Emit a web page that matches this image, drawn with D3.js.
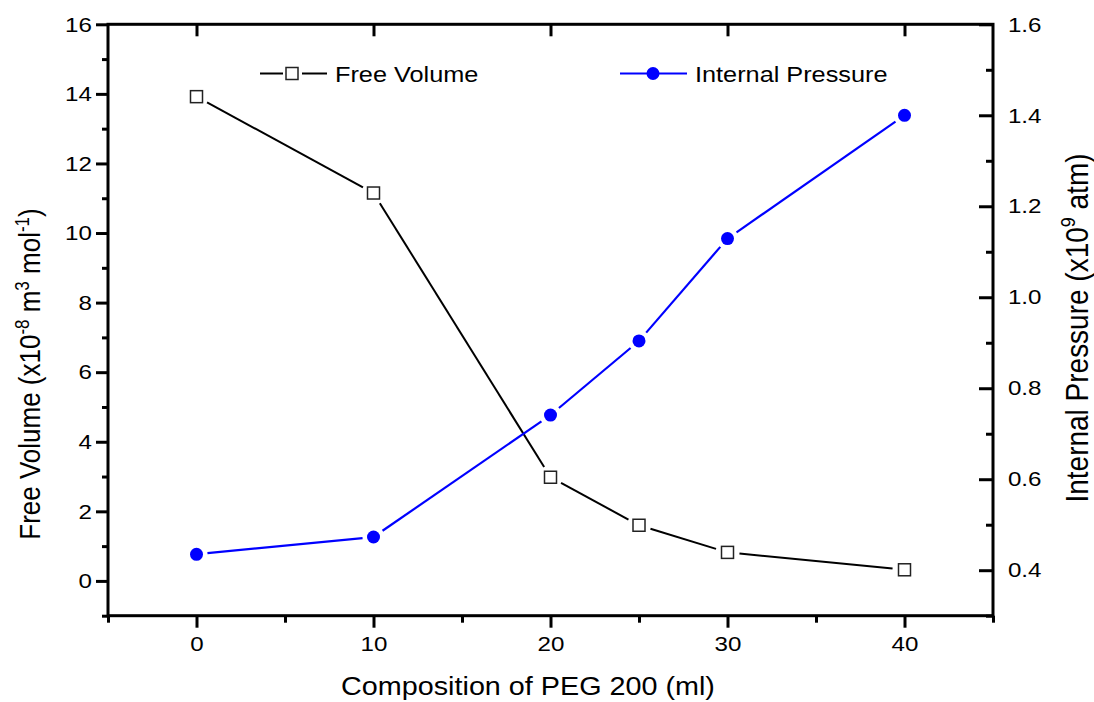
<!DOCTYPE html>
<html>
<head>
<meta charset="utf-8">
<script src="https://d3js.org/d3.v7.min.js"></script>
<style>
  body { margin: 0; background: #fff; }
  svg { display: block; font-family: "Liberation Sans", Arial, sans-serif; }
</style>
</head>
<body>
<div id="chart"></div>
<script>
// data
var composition = [0, 10, 20, 25, 30, 40];
var freeVolume = [13.92, 11.15, 2.98, 1.60, 0.82, 0.32];
var internalPressure = [0.435, 0.473, 0.741, 0.904, 1.129, 1.40];

var xTicks = [0, 10, 20, 30, 40];
var xMinor = [-5, 5, 15, 25, 35, 45];
var yLeftTicks = [0, 2, 4, 6, 8, 10, 12, 14, 16];
var yLeftMinor = [-1, 1, 3, 5, 7, 9, 11, 13, 15];
var yRightTicks = [0.4, 0.6, 0.8, 1.0, 1.2, 1.4, 1.6];
var yRightMinor = [0.3, 0.5, 0.7, 0.9, 1.1, 1.3, 1.5];

(function () {
  var width = 1094, height = 702;
  var plotLeft = 108, plotRight = 993, plotTop = 24.3, plotBottom = 615.7;
  var stretch = 1.15; // text in the source is a bit wider than normal

  var svg = d3.select("#chart").append("svg")
    .attr("width", width).attr("height", height);

  var x = d3.scaleLinear().domain([-5, 45]).range([plotLeft, plotRight]);
  var yL = d3.scaleLinear().domain([-1, 16]).range([plotBottom, plotTop]);
  var yR = d3.scaleLinear().domain([0.3, 1.6]).range([plotBottom, plotTop]);

  function styleAxis(g) {
    g.attr("font-family", null).attr("font-size", null);
    g.select(".domain").remove();
    g.selectAll("line").attr("stroke", "#000").style("stroke-width", "3px");
    g.selectAll("text")
      .attr("fill", "#000")
      .style("font-size", "21px")
      .attr("transform", "scale(" + stretch + ",1)");
  }

  // minor ticks
  svg.append("g").attr("transform", "translate(0," + plotBottom + ")")
    .call(d3.axisBottom(x).tickValues(xMinor).tickSize(7).tickFormat(""))
    .call(styleAxis);
  svg.append("g").attr("transform", "translate(" + plotLeft + ",0)")
    .call(d3.axisLeft(yL).tickValues(yLeftMinor).tickSize(6).tickFormat(""))
    .call(styleAxis);
  svg.append("g").attr("transform", "translate(" + plotRight + ",0)")
    .call(d3.axisRight(yR).tickValues(yRightMinor).tickSize(-7).tickFormat(""))
    .call(styleAxis);

  // major ticks
  svg.append("g").attr("transform", "translate(0," + plotBottom + ")")
    .call(d3.axisBottom(x).tickValues(xTicks).tickSize(12).tickPadding(8).tickFormat(d3.format("d")))
    .call(styleAxis);
  svg.append("g").attr("transform", "translate(0," + plotTop + ")")
    .call(d3.axisTop(x).tickValues(xTicks).tickSize(-12).tickFormat(""))
    .call(styleAxis);
  svg.append("g").attr("transform", "translate(" + plotLeft + ",0)")
    .call(d3.axisLeft(yL).tickValues(yLeftTicks).tickSize(12).tickPadding(2).tickFormat(d3.format("d")))
    .call(styleAxis);
  svg.append("g").attr("transform", "translate(" + plotRight + ",0)")
    .call(d3.axisRight(yR).tickValues(yRightTicks).tickSize(-14).tickPadding(13).tickFormat(d3.format(".1f")))
    .call(styleAxis);

  // frame
  svg.append("rect")
    .attr("x", plotLeft).attr("y", plotTop)
    .attr("width", plotRight - plotLeft).attr("height", plotBottom - plotTop)
    .attr("fill", "none").attr("stroke", "#000").attr("stroke-width", 3);

  // lines broken around the markers
  function gappedSegments(pts, gap) {
    var segs = [];
    for (var i = 0; i < pts.length - 1; i++) {
      var a = pts[i], b = pts[i + 1];
      var dx = b[0] - a[0], dy = b[1] - a[1];
      var len = Math.sqrt(dx * dx + dy * dy);
      var ux = dx / len, uy = dy / len;
      segs.push([a[0] + ux * gap, a[1] + uy * gap, b[0] - ux * gap, b[1] - uy * gap]);
    }
    return segs;
  }

  var fvPts = composition.map(function (c, i) { return [x(c), yL(freeVolume[i])]; });
  var ipPts = composition.map(function (c, i) { return [x(c), yR(internalPressure[i])]; });

  svg.append("g").selectAll("line")
    .data(gappedSegments(fvPts, 12))
    .enter().append("line")
    .attr("x1", function (d) { return d[0]; }).attr("y1", function (d) { return d[1]; })
    .attr("x2", function (d) { return d[2]; }).attr("y2", function (d) { return d[3]; })
    .attr("stroke", "#000").attr("stroke-width", 2);

  svg.append("g").selectAll("line")
    .data(gappedSegments(ipPts, 11))
    .enter().append("line")
    .attr("x1", function (d) { return d[0]; }).attr("y1", function (d) { return d[1]; })
    .attr("x2", function (d) { return d[2]; }).attr("y2", function (d) { return d[3]; })
    .attr("stroke", "#0000ff").attr("stroke-width", 2.2);

  svg.append("g").selectAll("rect")
    .data(fvPts)
    .enter().append("rect")
    .attr("x", function (d) { return d[0] - 6; })
    .attr("y", function (d) { return d[1] - 6; })
    .attr("width", 12).attr("height", 12)
    .attr("fill", "#fff").attr("stroke", "#222").attr("stroke-width", 1.5);

  svg.append("g").selectAll("circle")
    .data(ipPts)
    .enter().append("circle")
    .attr("cx", function (d) { return d[0]; })
    .attr("cy", function (d) { return d[1]; })
    .attr("r", 6.5)
    .attr("fill", "#0000ff");

  // legend
  var legY = 73.5;
  svg.append("line").attr("x1", 260).attr("x2", 283).attr("y1", legY).attr("y2", legY)
    .attr("stroke", "#000").attr("stroke-width", 2);
  svg.append("line").attr("x1", 302).attr("x2", 327).attr("y1", legY).attr("y2", legY)
    .attr("stroke", "#000").attr("stroke-width", 2);
  svg.append("rect").attr("x", 286).attr("y", legY - 6).attr("width", 12).attr("height", 12)
    .attr("fill", "#fff").attr("stroke", "#222").attr("stroke-width", 1.5);
  svg.append("text").attr("transform", "translate(335," + (legY + 8) + ") scale(" + stretch + ",1)")
    .style("font-size", "22px").text("Free Volume");

  svg.append("line").attr("x1", 620).attr("x2", 687).attr("y1", legY).attr("y2", legY)
    .attr("stroke", "#0000ff").attr("stroke-width", 2.2);
  svg.append("circle").attr("cx", 653).attr("cy", legY).attr("r", 6.5).attr("fill", "#0000ff");
  svg.append("text").attr("transform", "translate(695," + (legY + 8) + ") scale(" + stretch + ",1)")
    .style("font-size", "22px").text("Internal Pressure");

  // axis titles
  svg.append("text")
    .attr("transform", "translate(528,695) scale(" + stretch + ",1)")
    .attr("text-anchor", "middle").style("font-size", "25px")
    .text("Composition of PEG 200 (ml)");

  var lt = svg.append("text")
    .attr("transform", "translate(40,374) rotate(-90) scale(1," + stretch + ")")
    .attr("text-anchor", "middle").style("font-size", "26px");
  lt.append("tspan").text("Free Volume (x10");
  lt.append("tspan").attr("dy", -10).style("font-size", "17px").text("-8");
  lt.append("tspan").attr("dy", 10).text(" m");
  lt.append("tspan").attr("dy", -10).style("font-size", "17px").text("3");
  lt.append("tspan").attr("dy", 10).text(" mol");
  lt.append("tspan").attr("dy", -10).style("font-size", "17px").text("-1");
  lt.append("tspan").attr("dy", 10).text(")");

  var rt = svg.append("text")
    .attr("transform", "translate(1088,328) rotate(-90) scale(1," + stretch + ")")
    .attr("text-anchor", "middle").style("font-size", "28px");
  rt.append("tspan").text("Internal Pressure (x10");
  rt.append("tspan").attr("dy", -11).style("font-size", "18px").text("9");
  rt.append("tspan").attr("dy", 11).text(" atm)");
})();
</script>
</body>
</html>
